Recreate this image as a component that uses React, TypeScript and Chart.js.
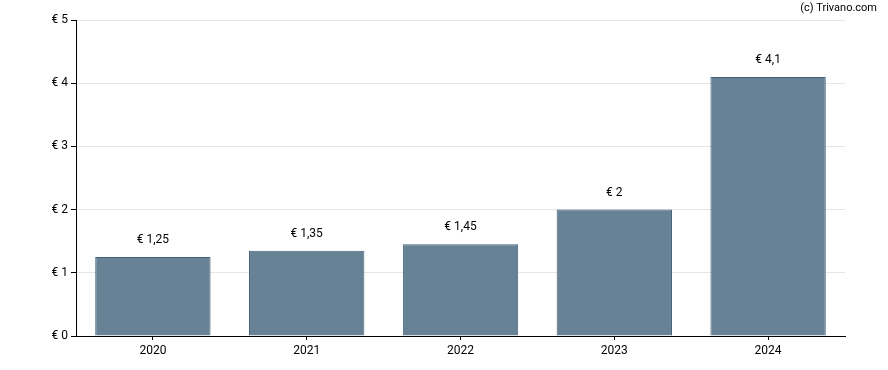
import React, { useEffect, useRef } from "react";
import { Chart, registerables } from "chart.js";

Chart.register(...registerables);

const categories = ["2020", "2021", "2022", "2023", "2024"];
const values = [1.25, 1.35, 1.45, 2, 4.1];
const valueLabels = ["€ 1,25", "€ 1,35", "€ 1,45", "€ 2", "€ 4,1"];
const yTicks = [0, 1, 2, 3, 4, 5];

const FONT = "Roboto, 'Noto Sans', sans-serif";

export default function App() {
  const ref = useRef<HTMLCanvasElement | null>(null);

  useEffect(() => {
    document.body.style.margin = "0";
    const canvas = ref.current;
    if (!canvas) return;

    const labelPlugin = {
      id: "labels",
      afterDatasetsDraw(chart: any) {
        const ctx = chart.ctx;
        const meta = chart.getDatasetMeta(0);
        ctx.save();
        ctx.font = `12px ${FONT}`;
        ctx.fillStyle = "#000";
        ctx.textAlign = "center";
        ctx.textBaseline = "middle";
        meta.data.forEach((bar: any, i: number) => {
          ctx.fillText(valueLabels[i], bar.x, bar.y - 17);
        });
        ctx.font = `11px ${FONT}`;
        ctx.textAlign = "right";
        ctx.fillText("(c) Trivano.com", 877, 8);
        ctx.restore();
      },
    };

    const chart = new Chart(canvas, {
      type: "bar",
      data: {
        labels: categories,
        datasets: [
          {
            data: values,
            backgroundColor: "#668294",
            borderColor: "#46607a",
            borderWidth: 1,
            categoryPercentage: 0.75,
            barPercentage: 1,
          },
        ],
      },
      options: {
        animation: false,
        responsive: false,
        maintainAspectRatio: false,
        layout: { padding: { top: 20, right: 43, left: 0, bottom: 0 } },
        plugins: {
          legend: { display: false },
          tooltip: { enabled: false },
        },
        scales: {
          x: {
            grid: {
              display: true,
              offset: false,
              drawOnChartArea: false,
              tickLength: 4,
              tickColor: "#000",
            },
            border: { color: "#000", width: 1 },
            ticks: {
              color: "#000",
              font: { family: FONT, size: 12 },
              padding: 4,
            },
            afterFit(scale: any) {
              scale.height = 34;
            },
          },
          y: {
            min: 0,
            max: 5,
            afterBuildTicks(scale: any) {
              scale.ticks = yTicks.map((v) => ({ value: v }));
            },
            grid: {
              color: "#e6e6e6",
              tickLength: 5,
              tickColor: "#000",
            },
            border: { color: "#000", width: 1 },
            ticks: {
              color: "#000",
              font: { family: FONT, size: 12 },
              padding: 3,
              callback: (v: any) => `€ ${v}`,
            },
            afterFit(scale: any) {
              scale.width = 76;
            },
          },
        },
      },
      plugins: [labelPlugin],
    });

    return () => chart.destroy();
  }, []);

  return (
    <div style={{ position: "absolute", left: 0, top: 0, width: 888, height: 370 }}>
      <canvas ref={ref} width={888} height={370} style={{ width: 888, height: 370 }} />
    </div>
  );
}
